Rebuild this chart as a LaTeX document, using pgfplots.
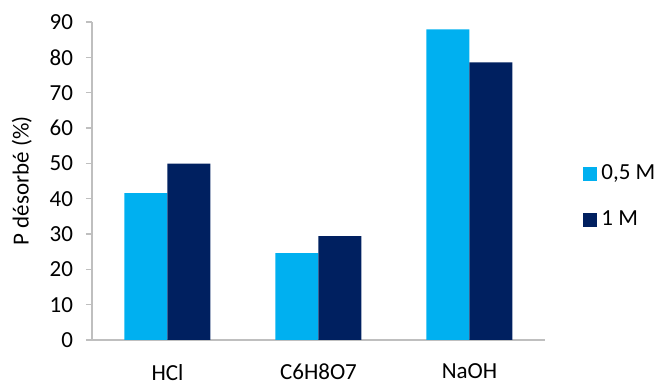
\documentclass[border=0pt]{standalone}
\usepackage{pgfplots}
\pgfplotsset{compat=1.18}
\usepackage{fontspec}
\setmainfont{Carlito}
\definecolor{lightb}{RGB}{0,176,240}
\definecolor{darkb}{RGB}{0,32,96}
\definecolor{axgray}{RGB}{191,191,191}
\begin{document}
\fontsize{11.5}{14}\selectfont
\begin{tikzpicture}
\useasboundingbox (-46pt,-22.5pt) rectangle (286.5pt,170pt);
\begin{axis}[
  at={(0,0)}, anchor=south west,
  scale only axis,
  width=226.5pt, height=159pt,
  xmin=-0.5, xmax=2.5, ymin=0, ymax=90,
  ytick={0,10,...,90},
  xtick={0,1,2},
  xticklabels={HCl,C6H8O7,NaOH},
  extra x ticks={-0.5,0.5,1.5,2.5},
  extra x tick labels={},
  extra x tick style={major tick length=3pt, tick style={axgray, line width=0.6pt}},
  major x tick style={draw=none},
  axis x line*=bottom, axis y line*=left,
  axis line style={axgray, line width=0.6pt, -},
  ytick style={axgray, line width=0.6pt},
  tick align=outside, major tick length=3pt,
  ybar, bar width=21.5pt,
  ylabel={P désorbé (\%)},
  ylabel style={at={(axis description cs:-0.155,0.5)}, anchor=center},
  /pgf/number format/assume math mode=true,
  yticklabel style={font=\fontsize{11.5}{14}\selectfont, anchor=east, xshift=-2.5pt},
  xticklabel style={font=\fontsize{11.5}{14}\selectfont, yshift=-5pt},
  legend style={draw=none, fill=none, at={(1.0,0.45)}, anchor=west, xshift=16pt,
    legend cell align=left, row sep=10pt, font=\fontsize{11.5}{14}\selectfont},
  legend image code/.code={\fill[#1] (0pt,-3.5pt) rectangle (7pt,3.5pt);},
]
\addplot[fill=lightb, draw=none, bar shift=-10.75pt] coordinates {(0,41.6) (1,24.6) (2,87.9)};
\addplot[fill=darkb, draw=none, bar shift=10.75pt] coordinates {(0,49.9) (1,29.4) (2,78.6)};
\legend{{0,5 M},{1 M}}
\end{axis}
\end{tikzpicture}
\end{document}
